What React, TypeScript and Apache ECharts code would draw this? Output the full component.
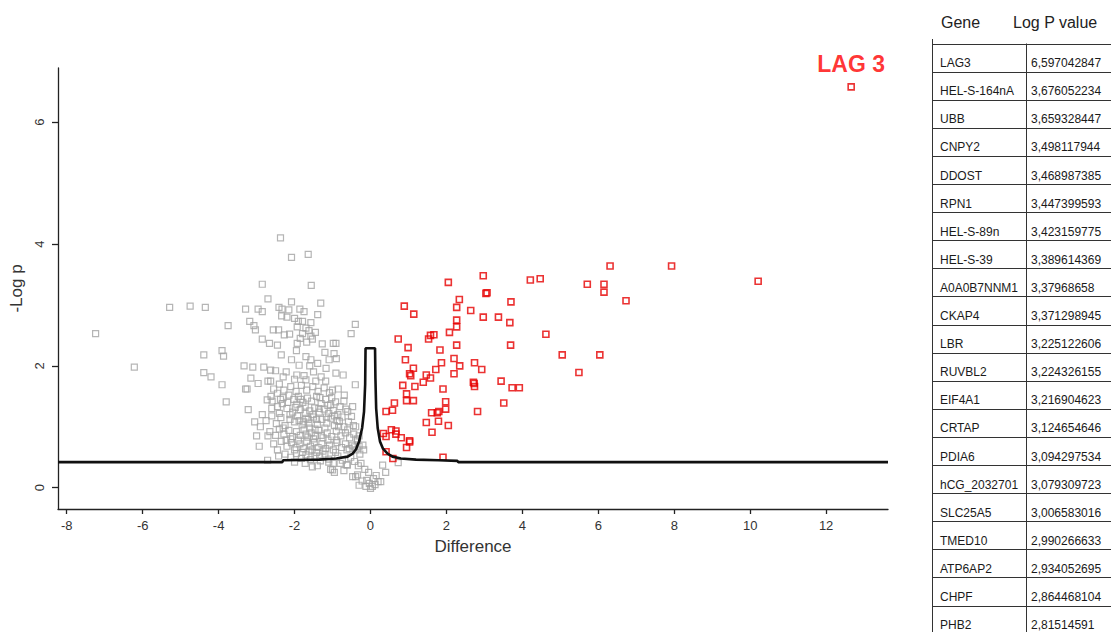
import React, { useEffect, useRef } from "react";
import * as echarts from "echarts";

// ---------- data ----------
const xTicks = [-8, -6, -4, -2, 0, 2, 4, 6, 8, 10, 12];
const yTicks = [0, 2, 4, 6];
const xRange = [-8.23, 13.63];
const yRange = [-0.35, 6.89];
const xAxisName = "Difference";
const yAxisName = "-Log p";

const greyPoints: [number, number][] = [
  [-7.24, 2.53], [-6.22, 1.98], [-5.29, 2.96], [-4.75, 2.98], [-4.35, 2.96], [-3.75, 2.66],
  [-4.39, 2.18], [-3.91, 2.25], [-3.87, 2.16], [-4.39, 1.89], [-4.2, 1.82], [-3.91, 1.69], [-3.8, 1.41],
  [-3.22, 1.28], [-2.93, 0.68], [-2.71, 0.45],
  [-2.37, 4.1], [-2.08, 3.78], [-1.64, 3.83], [-2.85, 3.34], [-1.56, 3.32], [-2.7, 3.1], [-2.08, 3.05], [-1.31, 3.03],
  [-3.29, 2.93], [-2.96, 2.93], [-2.85, 2.89], [-2.41, 2.96], [-2.33, 2.93], [-2.15, 2.92], [-1.86, 2.93], [-1.75, 2.89], [-1.39, 2.84],
  [-3.18, 2.73], [-3.07, 2.66], [-3.03, 2.59], [-2.34, 2.82], [-2.2, 2.8], [-2.0, 2.78],
  [-1.9, 2.73], [-1.79, 2.73], [-1.93, 2.64], [-1.57, 2.71], [-1.79, 2.53], [-1.57, 2.49],
  [-0.4, 2.68], [-0.51, 2.53],
  [-2.85, 2.44], [-2.66, 2.37], [-2.45, 2.34], [-2.56, 2.59], [-2.42, 2.59], [-2.27, 2.51], [-2.13, 2.52],
  [-1.93, 2.37], [-1.68, 2.39], [-1.53, 2.44], [-1.27, 2.36], [-0.98, 2.37], [-0.91, 2.37],
  [-1.7, 2.62], [-1.62, 2.58], [-1.85, 2.45], [-1.45, 2.55],
  [-3.33, 2.0], [-3.1, 1.98], [-2.81, 1.98], [-2.63, 1.93], [-3.15, 1.8], [-2.96, 1.71], [-2.7, 1.75], [-2.63, 1.75],
  [-3.29, 1.62], [-3.25, 1.62], [-2.72, 1.44], [-2.59, 1.42], [-2.45, 1.55], [-2.37, 1.45],
  [-2.08, 2.1], [-1.7, 2.15], [-1.39, 2.04], [-1.09, 2.1], [-0.96, 2.2], [-0.9, 2.12], [-0.91, 1.88], [-1.17, 1.96],
  [-2.22, 1.9], [-1.88, 2.01], [-1.57, 2.1], [-1.94, 1.85], [-1.7, 1.77], [-1.44, 1.75], [-1.18, 1.75], [-1.0, 1.6],
  [-0.69, 1.52], [-0.47, 1.33], [-0.65, 1.29], [-0.4, 1.69],
  [-2.55, 1.62], [-2.4, 1.7], [-2.28, 1.6], [-2.1, 1.66], [-1.96, 1.58], [-1.82, 1.68], [-1.68, 1.6], [-1.52, 1.66],
  [-1.38, 1.58], [-1.22, 1.64], [-1.08, 1.56], [-0.85, 1.62], [-2.0, 1.78], [-1.75, 1.84], [-1.5, 1.9], [-1.3, 1.82],
  [-2.3, 1.82], [-2.5, 1.92], [-1.6, 2.0], [-1.2, 2.22], [-2.35, 2.18], [-1.95, 2.25], [-0.72, 1.85],
  [-2.3, 1.48], [-2.15, 1.52], [-2.02, 1.45], [-1.9, 1.5], [-1.78, 1.4], [-1.66, 1.47], [-1.55, 1.42], [-1.42, 1.5],
  [-1.3, 1.38], [-1.18, 1.45], [-1.05, 1.36], [-0.92, 1.41], [-0.8, 1.33], [-0.7, 1.42], [-2.45, 1.33], [-2.2, 1.3],
  [-1.98, 1.32], [-1.85, 1.28], [-1.72, 1.34], [-1.6, 1.26], [-1.47, 1.31], [-1.35, 1.24], [-1.22, 1.29], [-1.1, 1.22],
  [-0.98, 1.27], [-0.86, 1.2], [-0.6, 1.25], [-0.5, 1.17],
  [-2.75, 1.1], [-2.6, 1.18], [-2.48, 1.05], [-2.36, 1.15], [-2.25, 1.02], [-2.12, 1.12], [-2.0, 1.08], [-1.92, 1.18],
  [-1.8, 1.03], [-1.7, 1.14], [-1.62, 1.06], [-1.5, 1.16], [-1.4, 1.04], [-1.28, 1.12], [-1.15, 1.06], [-1.04, 1.14],
  [-0.95, 1.02], [-0.82, 1.09], [-0.7, 1.0], [-0.58, 1.08], [-0.45, 1.02], [-2.9, 1.0], [-3.05, 1.08],
  [-2.65, 0.92], [-2.5, 0.86], [-2.4, 0.96], [-2.28, 0.88], [-2.15, 0.94], [-2.05, 0.84], [-1.95, 0.92], [-1.85, 0.86],
  [-1.75, 0.95], [-1.65, 0.83], [-1.56, 0.9], [-1.45, 0.85], [-1.36, 0.94], [-1.25, 0.82], [-1.14, 0.9], [-1.02, 0.84],
  [-0.9, 0.93], [-0.78, 0.85], [-0.66, 0.9], [-0.55, 0.82], [-0.44, 0.88], [-0.35, 0.8],
  [-2.55, 0.72], [-2.35, 0.76], [-2.2, 0.68], [-2.08, 0.74], [-1.96, 0.66], [-1.86, 0.72], [-1.76, 0.64], [-1.68, 0.76],
  [-1.58, 0.68], [-1.48, 0.74], [-1.38, 0.66], [-1.28, 0.72], [-1.18, 0.64], [-1.08, 0.7], [-0.98, 0.62], [-0.88, 0.74],
  [-0.76, 0.66], [-0.66, 0.72], [-0.56, 0.64], [-0.48, 0.7], [-0.38, 0.62], [-0.3, 0.68],
  [-2.25, 0.55], [-2.1, 0.5], [-1.95, 0.56], [-1.82, 0.48], [-1.7, 0.54], [-1.58, 0.46], [-1.46, 0.52], [-1.32, 0.44],
  [-1.2, 0.55], [-1.1, 0.47], [-0.98, 0.4], [-0.86, 0.52], [-0.74, 0.45], [-0.62, 0.38], [-0.52, 0.5], [-0.42, 0.43],
  [-0.32, 0.36], [-1.4, 0.36], [-1.05, 0.3], [-0.7, 0.28],
  [-2.18, 1.4], [-1.94, 1.37], [-1.72, 1.22], [-1.52, 1.2], [-1.33, 1.48], [-1.12, 1.35], [-0.88, 1.1], [-2.4, 1.22],
  [-2.6, 1.3], [-2.05, 1.24], [-1.88, 1.1], [-1.6, 0.98], [-1.42, 1.12], [-1.2, 0.98], [-0.95, 1.18], [-0.75, 1.16],
  [-2.3, 0.98], [-2.1, 0.8], [-1.9, 0.78], [-1.7, 0.88], [-1.5, 0.8], [-1.3, 0.86], [-1.12, 0.78], [-0.6, 0.95],
  [-2.0, 0.62], [-1.8, 0.58], [-1.62, 0.6], [-1.42, 0.58], [-1.25, 0.6], [-0.92, 0.58], [-2.45, 0.62], [-2.7, 0.85],
  [-2.85, 1.2], [-3.0, 0.85], [-2.62, 1.5], [-1.1, 0.42], [-0.8, 0.4], [-1.72, 0.4], [-2.0, 0.42],
  [-2.12, 1.2], [-1.84, 1.45], [-1.64, 1.12], [-1.36, 1.3], [-1.16, 1.16], [-0.84, 1.0], [-2.22, 0.78], [-1.54, 0.62],
  [-1.34, 0.52], [-0.9, 0.78], [-0.62, 0.62], [-2.32, 1.38], [-1.02, 1.48], [-1.76, 1.08], [-1.46, 0.96], [-2.42, 0.52],
  [-0.47, 0.18], [-0.39, 0.18], [-0.34, 0.21], [-0.3, 0.04], [-0.22, 0.11], [-0.15, 0.3], [-0.1, 0.12], [-0.03, 0.07],
  [0.0, -0.01], [0.05, 0.02], [0.08, 0.15], [0.12, 0.05], [0.2, 0.1], [0.27, 0.1], [-0.05, 0.25], [-0.25, 0.4],
  [0.32, 0.37], [0.73, 0.41], [0.4, 0.25], [-0.43, 0.67], [-0.34, 0.78], [-0.39, 1.0], [-1.53, 0.34], [-1.0, 0.29],
  [-0.61, 0.37], [-0.95, 0.25], [-0.28, 0.55], [-0.2, 0.7], [-0.12, 0.02], [0.15, 0.2], [-0.3, 0.85], [-0.18, 0.62],
];

const redPoints: [number, number][] = [
  [6.31, 3.64], [7.93, 3.64], [10.21, 3.39], [2.97, 3.48], [2.05, 3.37], [4.21, 3.41], [4.47, 3.43], [5.71, 3.34],
  [6.15, 3.34], [6.15, 3.21], [6.73, 3.07], [3.04, 3.19], [3.07, 3.2], [3.7, 3.05], [2.34, 3.09], [2.27, 2.96],
  [2.64, 2.91], [2.97, 2.8], [3.37, 2.8], [3.67, 2.71], [0.89, 2.98], [1.14, 2.85], [2.27, 2.75], [2.27, 2.64],
  [2.08, 2.55], [1.67, 2.51], [1.58, 2.5], [1.53, 2.44], [0.73, 2.44], [4.62, 2.52], [3.69, 2.34], [2.27, 2.34],
  [0.99, 2.3], [1.83, 2.26], [5.05, 2.18], [6.04, 2.18], [5.49, 1.89], [0.92, 2.1], [2.2, 2.12], [1.87, 2.05],
  [2.35, 2.0], [2.74, 2.05], [2.93, 1.94], [1.13, 1.96], [1.72, 1.94], [1.03, 1.87], [1.06, 1.84], [2.2, 1.87],
  [1.47, 1.85], [1.58, 1.8], [1.39, 1.73], [0.85, 1.68], [1.17, 1.66], [1.91, 1.62], [2.71, 1.73], [2.73, 1.71],
  [2.74, 1.66], [3.44, 1.75], [3.73, 1.64], [3.92, 1.64], [0.95, 1.54], [0.95, 1.43], [1.13, 1.43], [1.98, 1.41],
  [3.51, 1.39], [0.63, 1.39], [0.58, 1.27], [0.41, 1.25], [1.61, 1.23], [1.76, 1.23], [1.8, 1.25], [1.98, 1.29],
  [2.82, 1.25], [1.47, 1.07], [1.79, 1.09], [2.05, 1.02], [1.62, 0.91], [0.55, 0.95], [0.67, 0.93], [0.34, 0.89],
  [0.41, 0.84], [0.81, 0.82], [1.03, 0.77], [1.03, 0.75], [0.95, 0.66], [0.41, 0.59], [0.59, 0.48], [1.91, 0.5],
  [0.67, 0.88],
];

const lag3Point: [number, number] = [12.66, 6.58];
const lag3Label = "LAG 3";

const thresholdX = [-8.23, -2.32, -2.3, -1.35, -0.9, -0.6, -0.47, -0.38, -0.3, -0.22, -0.17, -0.14, -0.13,
  0.12, 0.13, 0.15, 0.19, 0.25, 0.33, 0.45, 0.58, 0.8, 1.2, 1.8, 2.29, 2.31, 13.63];
const thresholdY = [0.42, 0.42, 0.45, 0.46, 0.48, 0.51, 0.56, 0.63, 0.76, 0.98, 1.25, 1.7, 2.29,
  2.29, 1.8, 1.3, 0.98, 0.76, 0.64, 0.56, 0.51, 0.48, 0.46, 0.45, 0.44, 0.42, 0.42];

const tableHeaders = ["Gene", "Log P value"];
const geneNames = ["LAG3", "HEL-S-164nA", "UBB", "CNPY2", "DDOST", "RPN1", "HEL-S-89n", "HEL-S-39",
  "A0A0B7NNM1", "CKAP4", "LBR", "RUVBL2", "EIF4A1", "CRTAP", "PDIA6", "hCG_2032701", "SLC25A5",
  "TMED10", "ATP6AP2", "CHPF", "PHB2"];
const logPValues = ["6,597042847", "3,676052234", "3,659328447", "3,498117944", "3,468987385",
  "3,447399593", "3,423159775", "3,389614369", "3,37968658", "3,371298945", "3,225122606",
  "3,224326155", "3,216904623", "3,124654646", "3,094297534", "3,079309723", "3,006583016",
  "2,990266633", "2,934052695", "2,864468104", "2,81514591"];

// ---------- layout ----------
const FONT = "'Liberation Sans', Arial, sans-serif";

function buildTable(): any[] {
  const top = 43.5;
  const rowH = 28.1;
  const colLeft = 932.5;
  const colMid = 1026.5;
  const right = 1111;
  const els: any[] = [];
  els.push({ type: "text", x: 941, y: 22, style: { text: tableHeaders[0], fill: "#222", fontSize: 16, fontFamily: FONT, verticalAlign: "middle" } });
  els.push({ type: "text", x: 1013, y: 22, style: { text: tableHeaders[1], fill: "#222", fontSize: 16, fontFamily: FONT, verticalAlign: "middle" } });
  for (let k = 0; k <= geneNames.length; k++) {
    const y = Math.round(top + k * rowH) + 0.5;
    els.push({ type: "line", shape: { x1: colLeft, y1: y, x2: right, y2: y }, style: { stroke: "#333", lineWidth: 1 } });
  }
  els.push({ type: "line", shape: { x1: colLeft, y1: 39, x2: colLeft, y2: 632 }, style: { stroke: "#333", lineWidth: 1 } });
  els.push({ type: "line", shape: { x1: colMid, y1: top, x2: colMid, y2: 632 }, style: { stroke: "#333", lineWidth: 1 } });
  geneNames.forEach((g, i) => {
    const y = top + (i + 1) * rowH - 8.5;
    els.push({ type: "text", x: 940, y, style: { text: g, fill: "#1a1a1a", fontSize: 12, fontFamily: FONT, verticalAlign: "middle" } });
    els.push({ type: "text", x: 1031, y, style: { text: logPValues[i], fill: "#1a1a1a", fontSize: 12, fontFamily: FONT, verticalAlign: "middle" } });
  });
  return els;
}

export default function App() {
  const ref = useRef<HTMLDivElement>(null);
  useEffect(() => {
    if (!ref.current) return;
    const chart = echarts.init(ref.current, null, { renderer: "svg" });
    const axisCommon = {
      splitLine: { show: false },
      axisLine: { show: true, onZero: false, lineStyle: { color: "#222", width: 1.3 } },
      nameTextStyle: { fontFamily: FONT, fontSize: 17, color: "#333" },
    };
    chart.setOption({
      animation: false,
      backgroundColor: "#fff",
      grid: { left: 58, top: 68, width: 830, height: 441, containLabel: false },
      xAxis: {
        ...axisCommon,
        type: "value",
        min: xRange[0],
        max: xRange[1],
        name: xAxisName,
        nameLocation: "middle",
        nameGap: 29,
        axisTick: { show: true, length: 5, customValues: xTicks, lineStyle: { color: "#222", width: 1.3 } },
        axisLabel: { customValues: xTicks, margin: 10, fontFamily: FONT, fontSize: 13, color: "#333" },
      },
      yAxis: {
        ...axisCommon,
        type: "value",
        min: yRange[0],
        max: yRange[1],
        name: yAxisName,
        nameLocation: "middle",
        nameRotate: 90,
        nameGap: 30,
        axisTick: { show: true, length: 6, customValues: yTicks, lineStyle: { color: "#222", width: 1.3 } },
        axisLabel: { customValues: yTicks, rotate: 90, margin: 12, fontFamily: FONT, fontSize: 13, color: "#333" },
      },
      series: [
        {
          type: "scatter",
          data: greyPoints,
          symbol: "rect",
          symbolSize: 6,
          itemStyle: { color: "rgba(0,0,0,0)", borderColor: "#a3a3a3", borderWidth: 1.2 },
          z: 2,
        },
        {
          type: "scatter",
          data: [
            ...redPoints,
            {
              value: lag3Point,
              label: {
                show: true,
                formatter: lag3Label,
                position: "top",
                distance: 8,
                color: "#ff0000",
                fontWeight: "bold",
                fontSize: 23,
                fontFamily: FONT,
              },
            },
          ],
          symbol: "rect",
          symbolSize: 6,
          itemStyle: { color: "rgba(0,0,0,0)", borderColor: "#e60000", borderWidth: 1.6 },
          z: 3,
        },
        {
          type: "line",
          data: thresholdX.map((x, i) => [x, thresholdY[i]]),
          showSymbol: false,
          symbol: "none",
          lineStyle: { color: "#111", width: 2.6 },
          z: 4,
        },
      ],
      graphic: buildTable(),
    });
    return () => chart.dispose();
  }, []);
  return <div ref={ref} style={{ position: "absolute", left: 0, top: 0, width: 1111, height: 632 }} />;
}
